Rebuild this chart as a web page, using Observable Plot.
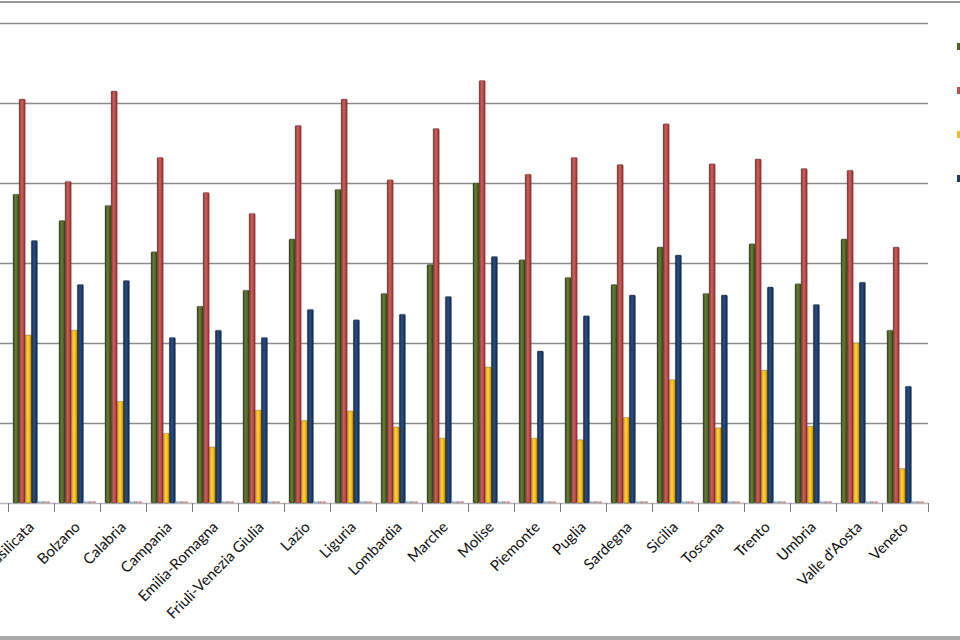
<!DOCTYPE html>
<html>
<head>
<meta charset="utf-8">
<script src="https://cdn.jsdelivr.net/npm/d3@7"></script>
<script src="https://cdn.jsdelivr.net/npm/@observablehq/plot@0.6"></script>
<style>
  html, body { margin: 0; padding: 0; background: #fff; overflow: hidden; }
  #wrap { position: relative; width: 960px; height: 640px; }
  .bord { position: absolute; left: 0; width: 960px; background: #9a9a9a; }
  .leg { position: absolute; width: 7px; height: 7px; left: 957px; }
</style>
</head>
<body>
<div id="wrap"></div>
<script>
const regions = ["Basilicata","Bolzano","Calabria","Campania","Emilia-Romagna","Friuli-Venezia Giulia","Lazio","Liguria","Lombardia","Marche","Molise","Piemonte","Puglia","Sardegna","Sicilia","Toscana","Trento","Umbria","Valle d'Aosta","Veneto"];
const serie1 = [38.6,35.3,37.2,31.4,24.6,26.6,33.0,39.2,26.2,29.8,40.0,30.4,28.2,27.3,32.0,26.2,32.4,27.4,33.0,21.6];
const serie2 = [50.5,40.2,51.5,43.2,38.8,36.2,47.2,50.5,40.4,46.8,52.8,41.1,43.2,42.3,47.4,42.4,43.0,41.8,41.6,32.0];
const serie3 = [21.0,21.6,12.7,8.7,7.0,11.6,10.3,11.5,9.5,8.1,17.0,8.1,7.9,10.7,15.4,9.4,16.6,9.6,20.0,4.3];
const serie4 = [32.8,27.3,27.8,20.7,21.6,20.7,24.2,22.9,23.6,25.8,30.8,19.0,23.4,26.0,31.0,26.0,27.0,24.8,27.6,14.6];
const serie5 = [0.2,0.2,0.2,0.2,0.2,0.2,0.2,0.2,0.2,0.2,0.2,0.2,0.2,0.2,0.2,0.2,0.2,0.2,0.2,0.2];
const serie6 = [0.2,0.2,0.2,0.2,0.2,0.2,0.2,0.2,0.2,0.2,0.2,0.2,0.2,0.2,0.2,0.2,0.2,0.2,0.2,0.2];
const yTicks = [0,10,20,30,40,50,60];

(function () {
const seriesList = [serie1, serie2, serie3, serie4, serie5, serie6];
// gradient colours: [edge, centre]
const colors = [
  ["#3a481a", "#677d33"],
  ["#8e2f2d", "#cf605c"],
  ["#d49a00", "#ffd23a"],
  ["#10264a", "#2a4f86"],
  ["#6f90b8", "#a9c3e0"],
  ["#b86e6c", "#e3a8a6"]
];
const legendColors = ["#4f6228", "#c0504d", "#f5c000", "#1f3b63"];

const band = 46, off = 5, bw = 6.1;

const marks = [
  Plot.ruleY(yTicks.filter(d => d > 0), {y: d => d, stroke: "#8c8c8c", strokeWidth: 1.3, insetLeft: -8}),
  Plot.ruleY([0], {y: d => d, stroke: "#b8b8b8", strokeWidth: 1.5, insetLeft: -8})
];
seriesList.forEach((s, i) => {
  const data = regions.map((r, j) => ({region: r, value: s[j]}));
  const l = off + bw * i;
  marks.push(Plot.barY(data, {
    x: "region", y: "value",
    fill: `url(#grad${i})`,
    stroke: i < 4 ? "#222" : "none", strokeWidth: 0.5, strokeOpacity: 0.6,
    insetLeft: l, insetRight: band - l - bw,
    rx: i < 4 ? 1.2 : 0
  }));
});
marks.push(
  Plot.axisX({tickSize: 9, text: null, dx: -band / 2, stroke: "#7a7a7a"}),
  Plot.axisX([regions[regions.length - 1]], {tickSize: 9, text: null, dx: band / 2, stroke: "#7a7a7a"}),
  Plot.axisX({tickSize: 0, tickRotate: -45, tickPadding: 21, fill: "#111", fontSize: 15})
);

const chart = Plot.plot({
  width: 960,
  height: 640,
  marginTop: 23,
  marginBottom: 137,
  marginLeft: 8,
  marginRight: 32,
  style: {fontFamily: "Lato, 'Noto Sans', sans-serif", fontSize: "15px", background: "transparent", overflow: "visible"},
  x: {type: "band", domain: regions, padding: 0, round: false, axis: null, label: null},
  y: {domain: [0, 60], axis: null, label: null},
  marks
});

const defs = d3.select(chart).insert("defs", ":first-child");
colors.forEach(([edge, mid], i) => {
  const g = defs.append("linearGradient").attr("id", `grad${i}`).attr("x1", "0").attr("x2", "1").attr("y1", "0").attr("y2", "0");
  g.append("stop").attr("offset", "0%").attr("stop-color", edge);
  g.append("stop").attr("offset", "45%").attr("stop-color", mid);
  g.append("stop").attr("offset", "100%").attr("stop-color", edge);
});

const wrap = document.getElementById("wrap");
wrap.appendChild(chart);
chart.style.position = "absolute";
chart.style.left = "0";
chart.style.top = "0";

const topLine = document.createElement("div");
topLine.className = "bord"; topLine.style.top = "1px"; topLine.style.height = "1.5px";
wrap.appendChild(topLine);
const botLine = document.createElement("div");
botLine.className = "bord"; botLine.style.top = "636px"; botLine.style.height = "4px"; botLine.style.background = "#a8a8a8";
wrap.appendChild(botLine);

[46, 90, 134.5, 178].forEach((y, i) => {
  const d = document.createElement("div");
  d.className = "leg";
  d.style.top = (y - 3.5) + "px";
  d.style.background = legendColors[i];
  wrap.appendChild(d);
});
})();
</script>
</body>
</html>
